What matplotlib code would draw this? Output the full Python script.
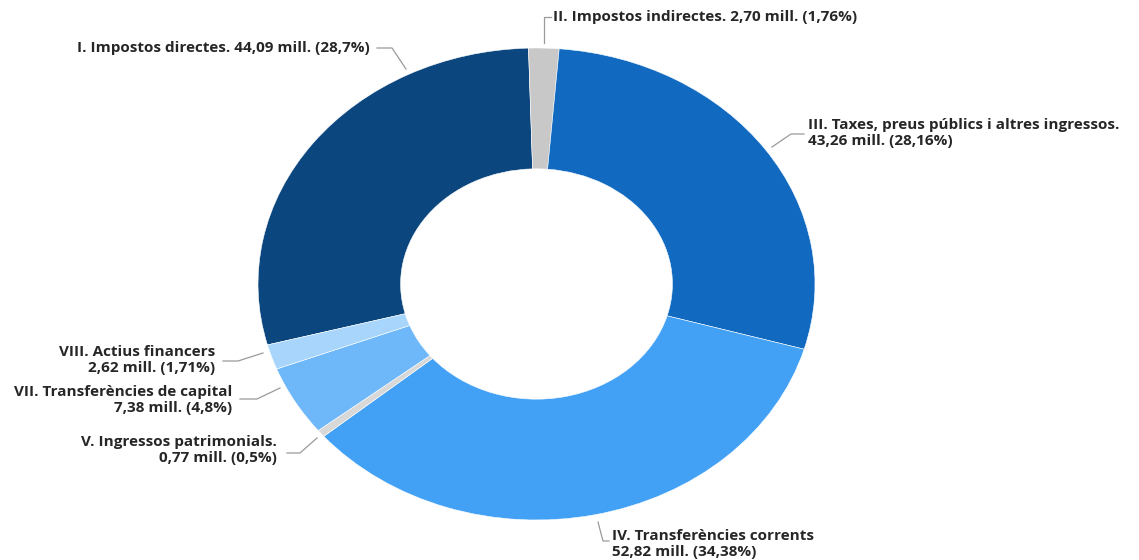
import matplotlib.pyplot as plt

# --- dades ---
names = ["I. Impostos directes.", "II. Impostos indirectes.",
         "III. Taxes, preus públics i altres ingressos.", "IV. Transferències corrents",
         "V. Ingressos patrimonials.", "VII. Transferències de capital",
         "VIII. Actius financers"]
values = [44.09, 2.70, 43.26, 52.82, 0.77, 7.38, 2.62]
pcts = ["28,7%", "1,76%", "28,16%", "34,38%", "0,5%", "4,8%", "1,71%"]
colors = ["#0c467e", "#c8c8c8", "#116ac0", "#42a1f5", "#d8d8d8", "#6eb8f9", "#a8d5fb"]

# una línia o dues per etiqueta
one_line = [True, True, False, False, False, False, False]

# --- posicions de les etiquetes (píxels) ---
# (x, y, alineació, recorregut de la línia guia)
label_layout = [
    (370, 48, "right", [(377, 48), (392, 48), (406, 69)]),
    (553, 17, "left", [(544, 43), (544, 17), (551, 17)]),
    (808, 133, "left", [(772, 147), (791, 134), (804, 134)]),
    (612, 544, "left", [(598, 522), (603, 541), (609, 541)]),
    (277, 450, "right", [(317, 438), (300, 453), (287, 453)]),
    (232, 400, "right", [(280, 388), (257, 399), (240, 399)]),
    (215, 360, "right", [(263, 353), (238, 361), (223, 361)]),
]

W, H = 1139, 560
fig = plt.figure(figsize=(W / 100, H / 100), dpi=100)

# --- donut (lleugerament estirat en horitzontal, com l'original) ---
left, right, top, bottom = 258, 815, 48, 520
ax_pie = fig.add_axes([left / W, (H - bottom) / H, (right - left) / W, (bottom - top) / H])
total = sum(values)
start = 91.65 + 360 * values[0] / total
ax_pie.pie(values, colors=colors, startangle=start, counterclock=False, radius=1,
           wedgeprops=dict(width=0.512, edgecolor="white", linewidth=0.4))
ax_pie.set_aspect("auto")
ax_pie.set_xlim(-1, 1)
ax_pie.set_ylim(-1, 1)
ax_pie.axis("off")

# --- etiquetes ---
ax = fig.add_axes([0, 0, 1, 1])
ax.set_xlim(0, W)
ax.set_ylim(H, 0)
ax.axis("off")

for i, (x, y, ha, path) in enumerate(label_layout):
    val = f"{values[i]:.2f}".replace(".", ",") + f" mill. ({pcts[i]})"
    txt = names[i] + (" " if one_line[i] else "\n") + val
    ax.text(x, y, txt, ha=ha, va="center", fontsize=11, fontweight="bold",
            family=["Open Sans", "DejaVu Sans"], color="#262626", linespacing=1.1,
            multialignment=ha)
    xs, ys = zip(*path)
    ax.plot(xs, ys, color="#9a9a9a", linewidth=0.9)

fig.savefig("out.png", dpi=100)
